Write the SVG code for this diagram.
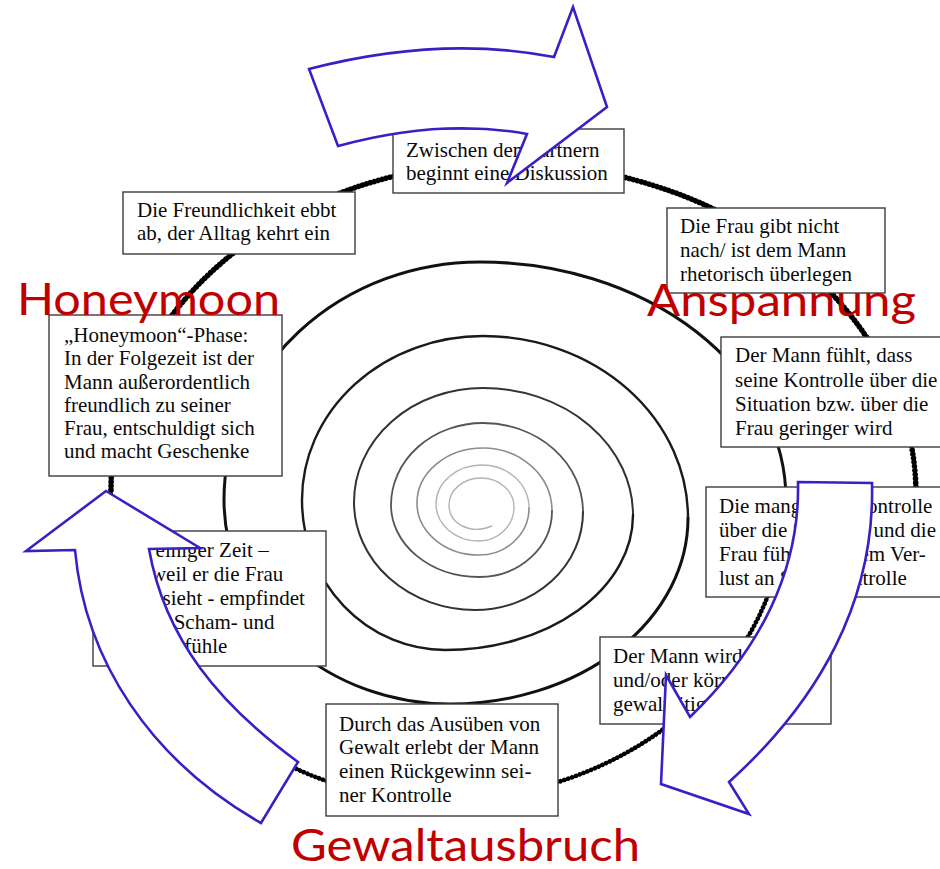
<svg xmlns="http://www.w3.org/2000/svg" width="940" height="869" viewBox="0 0 940 869">
<style>
.bx{fill:#fff;stroke:#3c3c3c;stroke-width:1.4}
.tx{font-family:"Liberation Serif","Times New Roman",serif;font-size:21px;fill:#0a0a0a}
.ph{font-family:Lato,"Open Sans",sans-serif;font-size:44px;fill:#c00000}
.ar{fill:#fff;stroke:#3a1fc4;stroke-width:2.6;stroke-linejoin:miter}
.sp{fill:none;stroke-linecap:round}
.bead{fill:none;stroke:#000;stroke-dasharray:0.1 4;stroke-linecap:round}
</style>
<rect width="940" height="869" fill="#fff"/>
<g id="spiral">
<path class="sp" stroke="#b4b4b4" stroke-width="1.4" d="M492 526 C470 535 449 524 449 505 A32 27 0 0 1 481 478 A33 29 0 0 1 514 507 A35 34 0 0 1 479 541 A43 37 0 0 1 436 504 A46 39 0 0 1 482 465 A47 43 0 0 1 529 508"/>
<path class="sp" stroke="#8c8c8c" stroke-width="1.6" d="M529 508 A50 47 0 0 1 479 555 A62 52 0 0 1 417 503 A66 55 0 0 1 483 448 A69 63 0 0 1 552 511"/>
<path class="sp" stroke="#555" stroke-width="1.8" d="M552 511 A73 66 0 0 1 479 577 A88 72 0 0 1 391 505 A92 82 0 0 1 483 423 A100 89 0 0 1 583 512"/>
<path class="sp" stroke="#333" stroke-width="2" d="M583 512 A108 98 0 0 1 475 610 A121 108 0 0 1 354 502 A129 114 0 0 1 483 388 A150 127 0 0 1 633 515"/>
<path class="sp" stroke="#1a1a1a" stroke-width="2.4" d="M633 515 A188 135 0 0 1 445 650 A143 150 0 0 1 302 500 A181 164 0 0 1 483 336 A205 182 0 0 1 688 518"/>
<path class="sp" stroke="#111" stroke-width="3" d="M688 518 A238 186 0 0 1 450 704 A226 204 0 0 1 224 500 A256 238 0 0 1 480 262 A306 238 0 0 1 786 500"/>
<path class="bead" stroke-width="4.6" d="M786 500 A346 300 0 0 1 440 800 A329 310 0 0 1 111 490"/>
<path class="bead" stroke-width="5.6" d="M111 490 A394 327 0 0 1 505 163 A411 332 0 0 1 916 495 A486 405 0 0 1 905 580"/>
</g>
<g id="n_diskussion">
<rect class="bx" x="393" y="129" width="231" height="64"/>
<text class="tx"><tspan x="406" y="157">Zwischen den Partnern</tspan><tspan x="406" y="180">beginnt eine Diskussion</tspan></text>
</g>
<g id="n_alltag">
<rect class="bx" x="123" y="192" width="232" height="62"/>
<text class="tx"><tspan x="137" y="217">Die Freundlichkeit ebbt</tspan><tspan x="137" y="240">ab, der Alltag kehrt ein</tspan></text>
</g>
<g id="n_frau">
<rect class="bx" x="667" y="208" width="218" height="85"/>
<text class="tx"><tspan x="680" y="233">Die Frau gibt nicht</tspan><tspan x="680" y="257">nach/ ist dem Mann</tspan><tspan x="680" y="281">rhetorisch überlegen</tspan></text>
</g>
<g id="n_kontrolle">
<rect class="bx" x="721" y="337" width="222" height="110"/>
<text class="tx"><tspan x="735" y="362">Der Mann fühlt, dass</tspan><tspan x="735" y="387">seine Kontrolle über die</tspan><tspan x="735" y="411">Situation bzw. über die</tspan><tspan x="735" y="435">Frau geringer wird</tspan></text>
</g>
<g id="n_selbstkontrolle">
<rect class="bx" x="706" y="487" width="240" height="110"/>
<text class="tx"><tspan x="719" y="513">Die mangelnde Kontrolle</tspan><tspan x="719" y="537">über die Situation und die</tspan><tspan x="719" y="561">Frau führt zu einem Ver-</tspan><tspan x="719" y="585">lust an Selbstkontrolle</tspan></text>
</g>
<g id="n_gewalt">
<rect class="bx" x="600" y="637" width="231" height="87"/>
<text class="tx"><tspan x="613" y="663">Der Mann wird verbal</tspan><tspan x="613" y="687">und/oder körperlich</tspan><tspan x="613" y="711">gewalttätig</tspan></text>
</g>
<g id="n_rueckgewinn">
<rect class="bx" x="326" y="704" width="232" height="112"/>
<text class="tx"><tspan x="339" y="731">Durch das Ausüben von</tspan><tspan x="339" y="754">Gewalt erlebt der Mann</tspan><tspan x="339" y="778">einen Rückgewinn sei-</tspan><tspan x="339" y="802">ner Kontrolle</tspan></text>
</g>
<g id="n_scham">
<rect class="bx" x="93" y="531" width="233" height="135"/>
<text class="tx"><tspan x="106" y="557">Nach einiger Zeit –</tspan><tspan x="106" y="581">auch weil er die Frau</tspan><tspan x="106" y="605">leiden sieht - empfindet</tspan><tspan x="106" y="629">er dann Scham- und</tspan><tspan x="106" y="653">Schuldgefühle</tspan></text>
</g>
<g id="n_honeymoon">
<rect class="bx" x="49" y="315" width="233" height="161"/>
<text class="tx"><tspan x="64" y="342">„Honeymoon“-Phase:</tspan><tspan x="64" y="365">In der Folgezeit ist der</tspan><tspan x="64" y="389">Mann außerordentlich</tspan><tspan x="64" y="412">freundlich zu seiner</tspan><tspan x="64" y="435">Frau, entschuldigt sich</tspan><tspan x="64" y="458">und macht Geschenke</tspan></text>
</g>
<g id="connectors">
<path class="ar" d="M309 69 Q440 35 554 57 L573 7 L607 107 L507 183 L527 134 Q440 118 338 146 Z"/>
<path class="ar" d="M798 482 L872 483 C875 600 820 700 729 782 L749 814 L661 784 L666 675 L690 717 C760 650 800 570 798 482 Z"/>
<path class="ar" d="M106 491 L200 548 L149 549 C165 640 220 705 298 762 L261 823 C150 760 85 660 75 550 L26 551 Z"/>
</g>
<g id="phases">
<text class="ph" x="17" y="315" textLength="263" lengthAdjust="spacingAndGlyphs">Honeymoon</text>
<text class="ph" x="647" y="316" textLength="269" lengthAdjust="spacingAndGlyphs">Anspannung</text>
<text class="ph" x="291" y="861" textLength="349" lengthAdjust="spacingAndGlyphs">Gewaltausbruch</text>
</g>
</svg>
